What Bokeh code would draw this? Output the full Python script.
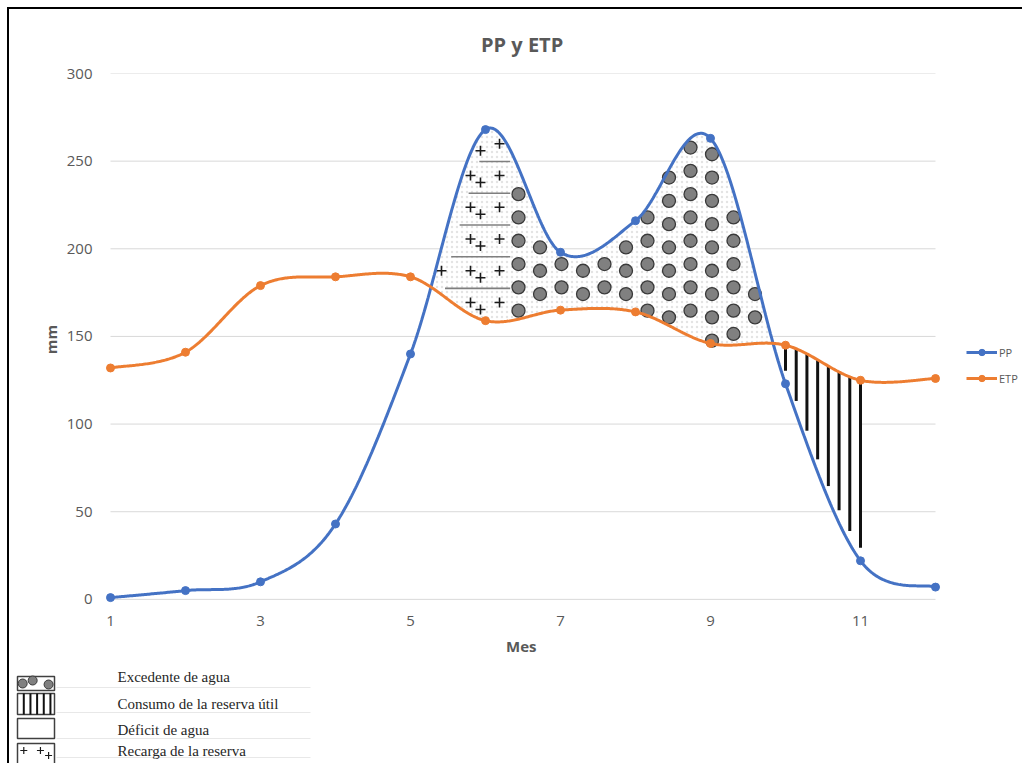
import numpy as np
from bokeh.plotting import figure
from bokeh.models import Range1d, FixedTicker, Legend, LegendItem, Title
from bokeh.layouts import column
from bokeh.embed import file_html
from bokeh.resources import INLINE
from bokeh.core.properties import value

# ---------------- data ----------------
meses = [1, 2, 3, 4, 5, 6, 7, 8, 9, 10, 11, 12]
pp = [1, 5, 10, 43, 140, 268, 198, 216, 263, 123, 22, 7]
etp = [132, 141, 179, 184, 184, 159, 165, 164, 146, 145, 125, 126]
x_ticks = [1, 3, 5, 7, 9, 11]
y_ticks = [0, 50, 100, 150, 200, 250, 300]
titulo = "PP y ETP"
x_label = "Mes"
y_label = "mm"
series_names = ["PP", "ETP"]
recarga_fin = 6.33      # end of "Recarga de la reserva" zone
consumo_ini = 10        # first hatch line of "Consumo de la reserva útil"
consumo_fin = 11
leyenda = ["Excedente de agua", "Consumo de la reserva útil",
           "Déficit de agua", "Recarga de la reserva"]

# ---------------- style ----------------
BLUE = "#4472C4"
ORANGE = "#ED7D31"
TXT = "#595959"
GRID = "#d9d9d9"
SANS = "Open Sans"
SERIF = "Liberation Serif"

W = 1013
H1 = 654
H2 = 100
PLOT_W = 837           # width of the month axis part
FRAME_H = 532
MB_LEFT = 95
MB_TOP = 64
FRAME_W = W - MB_LEFT  # frame extends to the right edge (room for series key)
PAD_X = 0.08
PAD_Y = 3.5
X0 = meses[0] - PAD_X
PXX = PLOT_W / (meses[-1] + PAD_X - X0)
X1 = X0 + FRAME_W / PXX
Y0, Y1 = y_ticks[0] - PAD_Y, y_ticks[-1]
PXY = FRAME_H / (Y1 - Y0)


def smooth(xs, ys, n=60):
    x = np.asarray(xs, float)
    y = np.asarray(ys, float)
    X = np.concatenate([[x[0]], x, [x[-1]]])
    Y = np.concatenate([[y[0]], y, [y[-1]]])
    t = np.linspace(0, 1, n, endpoint=False)[:, None]
    out = []
    for i in range(len(x) - 1):
        p0 = np.array([X[i], Y[i]])
        p1 = np.array([X[i + 1], Y[i + 1]])
        p2 = np.array([X[i + 2], Y[i + 2]])
        p3 = np.array([X[i + 3], Y[i + 3]])
        c1 = p1 + (p2 - p0) / 6
        c2 = p2 - (p3 - p1) / 6
        b = ((1 - t) ** 3) * p1 + 3 * ((1 - t) ** 2) * t * c1 + 3 * (1 - t) * t ** 2 * c2 + t ** 3 * p2
        out.append(b)
    out.append(np.array([[x[-1], y[-1]]]))
    a = np.vstack(out)
    return a[:, 0], a[:, 1]


sx_pp, sy_pp = smooth(meses, pp)
sx_et, sy_et = smooth(meses, etp)
xg = np.linspace(meses[0], meses[-1], 4401)
ppg = np.interp(xg, sx_pp, sy_pp)
etg = np.interp(xg, sx_et, sy_et)
diff = ppg - etg
cross1 = xg[np.argmax(diff > 0)]
cross2 = xg[np.where((xg > 8) & (diff < 0))[0][0]]


def inside(x, y, xa, xb, lower, upper):
    if x < xa or x > xb:
        return False
    lo = np.interp(x, xg, lower)
    hi = np.interp(x, xg, upper)
    return lo < y < hi


def inside_all(x, y, xa, xb, lower, upper, rpx):
    rx, ry = rpx / PXX, rpx / PXY
    pts = [(0, 0), (rx, 0), (-rx, 0), (0, ry), (0, -ry),
           (0.7 * rx, 0.7 * ry), (-0.7 * rx, 0.7 * ry), (0.7 * rx, -0.7 * ry), (-0.7 * rx, -0.7 * ry)]
    return all(inside(x + a, y + b, xa, xb, lower, upper) for a, b in pts)


p = figure(width=W, height=H1, x_range=Range1d(X0, X1), y_range=Range1d(Y0, Y1),
           output_backend="svg", toolbar_location=None, title=titulo,
           min_border_left=MB_LEFT, min_border_right=0,
           min_border_top=MB_TOP, min_border_bottom=H1 - MB_TOP - FRAME_H)
p.frame_align = False
p.outline_line_color = None
p.background_fill_color = "white"
p.border_fill_color = "white"
p.xgrid.visible = False
p.ygrid.visible = False

p.title.align = "left"
p.title.offset = PLOT_W / 2 - 42
p.title.vertical_align = "top"
p.title.text_font = SANS
p.title.text_font_size = "20px"
p.title.text_font_style = "bold"
p.title.text_color = TXT
p.title.standoff = 27

for ax in (p.xaxis[0], p.yaxis[0]):
    ax.axis_line_color = None
    ax.major_tick_line_color = None
    ax.minor_tick_line_color = None
    ax.major_label_text_font = SANS
    ax.major_label_text_font_size = "15px"
    ax.major_label_text_color = TXT
    ax.axis_label_text_font = SANS
    ax.axis_label_text_font_size = "15px"
    ax.axis_label_text_font_style = "bold"
    ax.axis_label_text_color = TXT
p.xaxis.ticker = FixedTicker(ticks=x_ticks)
p.yaxis.ticker = FixedTicker(ticks=y_ticks)
p.yaxis.axis_label = y_label
p.xaxis.major_label_standoff = 4
p.yaxis.major_label_standoff = 6
p.yaxis.axis_label_standoff = 3

# x axis title centred under the month span
p.add_layout(Title(text=x_label, align="left", offset=PLOT_W / 2 - 17, standoff=10,
                   text_font=SANS, text_font_size="15px", text_font_style="bold",
                   text_color=TXT), "below")

# gridlines spanning the category extent
p.segment(x0=[meses[0]] * len(y_ticks), x1=[meses[-1]] * len(y_ticks),
          y0=y_ticks, y1=y_ticks, line_color=GRID, line_width=1)

# ---- zones (white, hiding gridlines) ----
def zone(xa, xb, lower, upper):
    m = (xg >= xa) & (xg <= xb)
    xs = np.concatenate([xg[m], xg[m][::-1]])
    ys = np.concatenate([upper[m], lower[m][::-1]])
    return xs, ys

zx, zy = zone(cross1, recarga_fin, etg, ppg)
p.patch(zx, zy, fill_color="white", line_color=None,
        hatch_pattern=".", hatch_color="#e4e4e4", hatch_scale=5, hatch_weight=0.6)
zx, zy = zone(recarga_fin, cross2, etg, ppg)
p.patch(zx, zy, fill_color="white", line_color=None,
        hatch_pattern=".", hatch_color="#e4e4e4", hatch_scale=5, hatch_weight=0.6)
zx, zy = zone(cross2, consumo_fin, ppg, etg)
p.patch(zx, zy, fill_color="white", line_color=None)

# ---- "Excedente de agua" dot pattern ----
dot_dx = 21.5 / PXX
dot_dy = 23.3 / PXY
dot_stag = -6.7 / PXY
dot_x0, dot_y0 = 6.44, 164.7
dxs, dys = [], []
for k in range(-3, 20):
    xc = dot_x0 + k * dot_dx
    for j in range(-6, 14):
        yc = dot_y0 + j * dot_dy + (k % 2) * dot_stag
        if inside_all(xc, yc, recarga_fin, cross2, etg, ppg, 3.0):
            dxs.append(xc)
            dys.append(yc)
p.scatter(dxs, dys, size=13, marker="circle", fill_color="#808080",
          line_color="#3a3a3a", line_width=1.3)

# ---- "Recarga de la reserva" pattern ----
hl_y0, hl_dy = 177.4, 18.1
for j in range(0, 6):
    yl = hl_y0 + j * hl_dy
    m = (xg >= cross1) & (xg <= recarga_fin) & (etg < yl) & (ppg > yl)
    if m.sum() > 0:
        xa = xg[m].min() + 12 / PXX
        xb = xg[m].max()
        if xb > xa:
            p.segment(x0=[xa], x1=[xb], y0=[yl], y1=[yl], line_color="#7f7f7f", line_width=1.6)
pxs, pys = [], []
plus_x0, plus_dx, plus_low = 6.187, 0.387, 0.133
for j in range(0, 7):
    ym = 169.4 + j * hl_dy
    for k in range(0, 4):
        xm = plus_x0 - k * plus_dx
        if inside_all(xm, ym, cross1, recarga_fin, etg, ppg, 3):
            pxs.append(xm)
            pys.append(ym)
        if k % 2 == 1:
            xl, yl2 = xm + plus_low, ym - 4
            if inside_all(xl, yl2, cross1, recarga_fin, etg, ppg, 3):
                pxs.append(xl)
                pys.append(yl2)
p.scatter(pxs, pys, marker="cross", size=10, line_color="#1a1a1a", line_width=1.6)

# ---- "Consumo de la reserva útil" vertical lines ----
vx = np.linspace(consumo_ini, consumo_fin, 8)
vtop = np.interp(vx, xg, etg)
vbot = np.interp(vx, xg, ppg) + 13 / PXY
p.segment(x0=vx, x1=vx, y0=vtop, y1=vbot, line_color="#111111", line_width=3)

# ---- series ----
l_pp = p.line(sx_pp, sy_pp, line_color=BLUE, line_width=3)
m_pp = p.scatter(meses, pp, marker="circle", size=8, fill_color=BLUE, line_color=BLUE)
l_et = p.line(sx_et, sy_et, line_color=ORANGE, line_width=3)
m_et = p.scatter(meses, etp, marker="circle", size=8, fill_color=ORANGE, line_color=ORANGE)

leg = Legend(items=[LegendItem(label=series_names[0], renderers=[l_pp, m_pp]),
                    LegendItem(label=series_names[1], renderers=[l_et, m_et])],
             location=(PLOT_W + 25, 219), orientation="vertical")
leg.background_fill_alpha = 0
leg.border_line_color = None
leg.padding = 0
leg.margin = 0
leg.spacing = 10
leg.glyph_width = 31
leg.glyph_height = 16
leg.label_height = 16
leg.label_standoff = 2
leg.label_text_font = SANS
leg.label_text_font_size = "11px"
leg.label_text_color = TXT
p.add_layout(leg, "center")

# ---------------- bottom key ----------------
q = figure(width=W, height=H2, x_range=Range1d(0, W), y_range=Range1d(H2, 0),
           output_backend="svg", toolbar_location=None,
           x_axis_location=None, y_axis_location=None,
           min_border=0, min_border_left=0, min_border_right=0,
           min_border_top=0, min_border_bottom=0)
q.frame_align = False
q.grid.visible = False
q.outline_line_color = None
q.background_fill_color = "white"
q.border_fill_color = "white"

box_l, box_r = 8, 45
box_tops = [13, 30, 55, 80]
box_bots = [27, 51, 75, 102]
text_y = [13, 40, 66, 87]
sep_y = [24, 49, 75, 94]

q.segment(x0=[box_r + 2] * 4, x1=[301] * 4, y0=sep_y, y1=sep_y, line_color="#e8e8e8", line_width=1)
q.quad(left=[box_l] * 4, right=[box_r] * 4, top=box_tops, bottom=box_bots,
       fill_color="white", line_color="#404040", line_width=1.5)
bw = box_r - box_l
# dots swatch
q.scatter([box_l + 0.14 * bw, box_l + 0.41 * bw, box_l + 0.84 * bw],
          [box_tops[0] + 7, box_tops[0] + 4, box_tops[0] + 8],
          marker="circle", size=9, fill_color="#808080", line_color="#3a3a3a", line_width=1)
# vertical lines swatch
vlx = [box_l + bw * f for f in (0.17, 0.35, 0.53, 0.71, 0.89)]
q.segment(x0=vlx, x1=vlx, y0=[box_tops[1]] * 5, y1=[box_bots[1]] * 5, line_color="#111111", line_width=2)
# plus swatch
q.scatter([box_l + 0.17 * bw, box_l + 0.62 * bw, box_l + 0.84 * bw],
          [box_tops[3] + 7, box_tops[3] + 7, box_tops[3] + 12],
          marker="cross", size=7, line_color="#1a1a1a", line_width=1.2)

q.text(x=[box_l + 100] * 4, y=text_y, text=leyenda, text_baseline="middle",
       text_font=value(SERIF), text_font_size="15px", text_color="#262626")

lay = column(p, q, spacing=0, margin=(7, 0, 0, 7),
             styles={"border-top": "2px solid #000", "border-left": "2px solid #000"})

open("out.html", "w").write(file_html(lay, INLINE))
